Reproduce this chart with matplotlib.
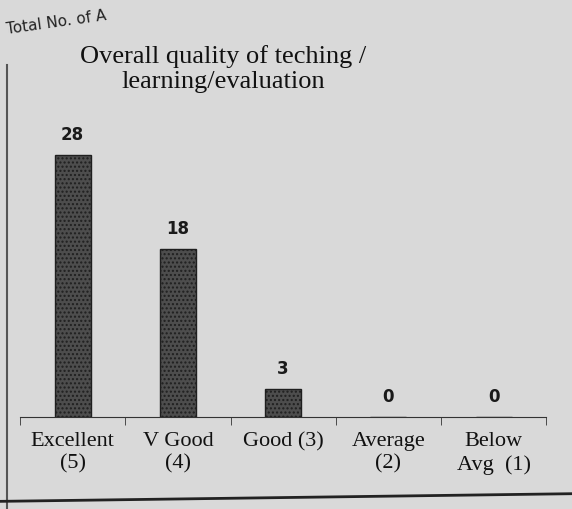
import matplotlib.pyplot as plt

# valores
categorias = ['Excellent\n(5)', 'V Good\n(4)', 'Good (3)', 'Average\n(2)', 'Below\nAvg  (1)']
respuestas = [28, 18, 3, 0, 0]

fondo = '#d9d9d9'
fig = plt.figure(figsize=(5.72, 5.1), dpi=100, facecolor=fondo)
ax = fig.add_axes([0.035, 0.18, 0.92, 0.55], facecolor=fondo)

x = range(len(categorias))
barras = ax.bar(x, respuestas, width=0.34, color='#4d4d4d', edgecolor='#1f1f1f',
                hatch='....', linewidth=1)
for b, v in zip(barras, respuestas):
    ax.text(b.get_x() + b.get_width() / 2, v + 1.3, str(v), ha='center', va='bottom',
            fontsize=12, fontweight='bold', color='#1a1a1a')

ax.set_xlim(-0.5, len(categorias) - 0.5)
ax.set_ylim(0, 30)
ax.set_yticks([])
ax.set_xticks(list(x))
ax.set_xticklabels(categorias, family='Liberation Serif', fontsize=16, color='#111111',
                   linespacing=1.25)
ax.tick_params(axis='x', length=0, pad=10)
ax.set_xticks([i + 0.5 for i in range(-1, len(categorias))], minor=True)
ax.tick_params(axis='x', which='minor', length=6, direction='out', color='#333333')
for lado in ['top', 'right', 'left']:
    ax.spines[lado].set_visible(False)
ax.spines['bottom'].set_color('#333333')

fig.text(0.39, 0.865, 'Overall quality of teching /\nlearning/evaluation', ha='center',
         va='center', family='Liberation Serif', fontsize=19, color='#111111',
         linespacing=1.15)
fig.text(0.01, 0.955, 'Total No. of A', ha='left', va='center', rotation=8,
         family='DejaVu Sans', fontsize=11, color='#222222')

# bordes de la hoja
fig.add_artist(plt.Line2D([0.012, 0.012], [0.0, 0.87], color='#555555', lw=1.5))
fig.add_artist(plt.Line2D([0.0, 1.0], [0.015, 0.03], color='#222222', lw=2))

plt.savefig('out.png', dpi=100, facecolor=fondo)
